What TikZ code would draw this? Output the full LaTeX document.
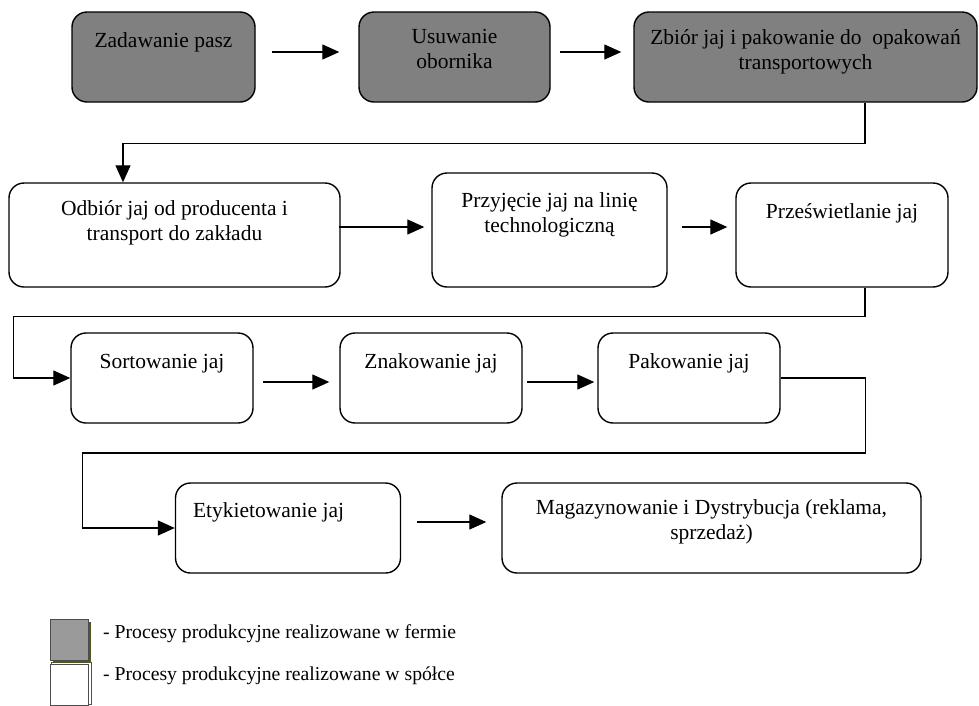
\documentclass[tikz,border=0pt]{standalone}
\usepackage{fontspec}
\setmainfont{Liberation Serif}
\usepackage{tikz}
\usetikzlibrary{positioning,arrows.meta,calc}

\definecolor{farmgray}{HTML}{808080}
\definecolor{leggray}{HTML}{9A9A9A}
\definecolor{legolive}{HTML}{4A5A22}

\tikzset{
  proc/.style={draw, line width=1.4pt, rounded corners=15pt, inner sep=0pt},
  farm/.style={proc, fill=farmgray},
  firm/.style={proc, fill=white},
  txt/.style={inner sep=0pt, align=center, font=\fontsize{21.5}{25}\selectfont,
              execute at begin node=\strut},
  flow/.style={line width=1.3pt, -{Triangle[length=17pt,width=15pt]}},
  legtxt/.style={inner sep=0pt, font=\fontsize{19.7}{23}\selectfont}
}

\begin{document}
\begin{tikzpicture}[x=1pt,y=-1pt]
  \useasboundingbox (0,0) rectangle (979,705);
  % boxes in the farm (gray)
  \node[farm, minimum width=183pt, minimum height=90pt] (zad) at (163.5,57) {};
  \node[farm, minimum width=191pt, minimum height=90pt] (usu) at (454.5,57) {};
  \node[farm, minimum width=343pt, minimum height=90pt] (zbi) at (805.5,57) {};
  % boxes in the company (white)
  \node[firm, minimum width=331pt, minimum height=104pt] (odb) at (174.5,235) {};
  \node[firm, minimum width=235pt, minimum height=114pt] (prz) at (549.5,230) {};
  \node[firm, minimum width=212pt, minimum height=104pt] (pre) at (842,235) {};
  \node[firm, minimum width=182pt, minimum height=90pt] (sor) at (162,378) {};
  \node[firm, minimum width=182pt, minimum height=90pt] (zna) at (431,378) {};
  \node[firm, minimum width=182pt, minimum height=90pt] (pak) at (689,378) {};
  \node[firm, minimum width=225pt, minimum height=90pt] (ety) at (288,528) {};
  \node[firm, minimum width=419pt, minimum height=90pt] (mag) at (711.5,528) {};

  % texts, hanging from the top of each box
  \node[txt, below=18.5pt of zad.north] (zadT) {Zadawanie pasz};
  \node[txt, below=17.5pt of usu.north] (usuT) {Usuwanie\\obornika};
  \node[txt, below=18.5pt of zbi.north] (zbiT) {Zbiór jaj i pakowanie do\ \ opakowań\\transportowych};
  \node[txt, below=18pt of odb.north] (odbT) {Odbiór jaj od producenta i\\transport do zakładu};
  \node[txt, below=20pt of prz.north] (przT) {Przyjęcie jaj na linię\\technologiczną};
  \node[txt, below=18.5pt of pre.north] (preT) {Prześwietlanie jaj};
  \node[txt, below=18.5pt of sor.north] (sorT) {Sortowanie jaj};
  \node[txt, below=18.5pt of zna.north] (znaT) {Znakowanie jaj};
  \node[txt, below=18.5pt of pak.north] (pakT) {Pakowanie jaj};
  \node[txt, anchor=north west] (etyT) at ($(ety.north west)+(18,17.5)$) {Etykietowanie jaj};
  \node[txt, below=17.5pt of mag.north] (magT) {Magazynowanie i Dystrybucja (reklama,\\sprzedaż)};

  % arrows in each row
  \draw[flow, shorten <=16pt, shorten >=19pt] ([yshift=5pt]zad.east) -- ([yshift=5pt]usu.west);
  \draw[flow, shorten <=9pt, shorten >=12pt] ([yshift=5pt]usu.east) -- ([yshift=5pt]zbi.west);
  \draw[flow, shorten <=-2pt, shorten >=7pt] ([yshift=8pt]odb.east) -- ([yshift=8pt]odb.east -| prz.west);
  \draw[flow, shorten <=14pt, shorten >=8pt] ([yshift=8pt]pre.west -| prz.east) -- ([yshift=8pt]pre.west);
  \draw[flow, shorten <=9pt, shorten >=10pt] ([yshift=-4pt]sor.east) -- ([yshift=-4pt]zna.west);
  \draw[flow, shorten <=4pt, shorten >=3pt] ([yshift=-4pt]zna.east) -- ([yshift=-4pt]pak.west);
  \draw[flow, shorten <=16pt, shorten >=15pt] ([yshift=6pt]ety.east) -- ([yshift=6pt]mag.west);

  % links between rows
  \draw[flow] ([xshift=59.5pt]zbi.south) -- ++(0,41) -| ([xshift=-51.5pt]odb.north);
  \draw[flow] ([xshift=23pt]pre.south) -- ++(0,29) -| ([xshift=-57pt]sor.west) -- (sor.west);
  \draw[flow] (pak.east) -- ++(85pt,0) -- ++(0,75) -| ([xshift=-92pt]ety.west) -- (ety.west);

  % legend
  \node[fill=legolive, inner sep=0pt, minimum width=38pt, minimum height=41pt] (legfarmS) at (72,642) {};
  \node[draw=black!70, fill=leggray, line width=0.8pt, inner sep=0pt,
        minimum width=38pt, minimum height=41pt] (legfarm) at (69,639.5) {};
  \node[draw=legolive, line width=0.6pt, inner sep=0pt, minimum width=40pt, minimum height=42pt] (legfirmS) at (71,683) {};
  \node[draw=black!70, fill=white, line width=0.8pt, inner sep=0pt,
        minimum width=38pt, minimum height=41pt] (legfirm) at (69,685) {};
  \node[legtxt, anchor=base west] (legfarmT) at (103,638) {- Procesy produkcyjne realizowane w fermie};
  \node[legtxt, anchor=base west] (legfirmT) at (103,680) {- Procesy produkcyjne realizowane w spółce};
\end{tikzpicture}
\end{document}
